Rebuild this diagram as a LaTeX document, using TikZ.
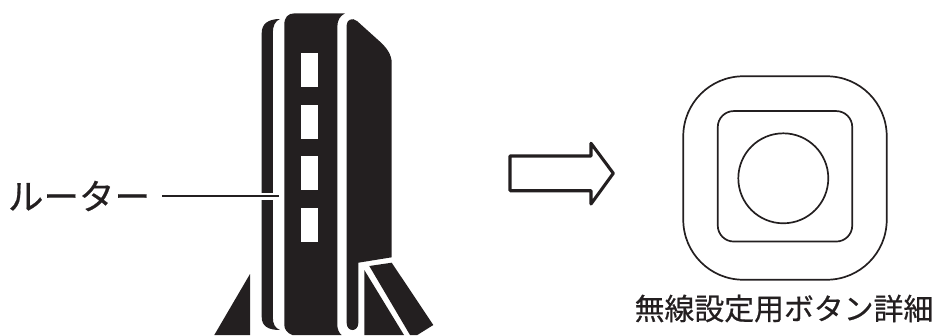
\documentclass[tikz,border=0pt]{standalone}
\usepackage{fontspec}
\usepackage{xcolor}
\usepackage{tikz}
\usetikzlibrary{positioning, calc}
\setmainfont{Noto Sans CJK JP}[FakeBold=0.5]
\definecolor{ink}{HTML}{231F20}
\tikzstyle{body} = [fill=ink, draw=none]
\tikzstyle{lamp} = [rectangle, fill=white, draw=none, minimum width=0.34cm,
    minimum height=0.68cm, inner sep=0pt]
\tikzstyle{outline} = [rectangle, draw=ink, line width=0.034cm, inner sep=0pt]
\tikzstyle{leader} = [draw=ink, line width=0.028cm]
\tikzstyle{caption} = [text=ink, inner sep=0pt]

\begin{document}
\begin{tikzpicture}[x=0.02cm, y=-0.02cm]
  \useasboundingbox (0,0) rectangle (936,335);

  % stand
  \fill[body] (250,274) -- (250,335) -- (214.3,335) -- cycle;
  \fill[body] (364.3,270) -- (404,335) -- (364.3,335) -- cycle;
  \fill[body] (369.3,266) -- (391.7,262.7) -- (433.3,325) -- (417.3,335) -- (410,335) -- cycle;

  % router
  \fill[body] (261.7,33) .. controls (261.7,24) and (268,19) .. (280,19)
    .. controls (275,21) and (272.8,26) .. (272.8,33) -- (272.8,317)
    .. controls (272.8,324) and (275,328) .. (280,330)
    .. controls (268,330) and (261.7,326) .. (261.7,317) -- cycle;
  \fill[body] (284.3,25) .. controls (284.3,17) and (288,13.3) .. (295,13.3) -- (345,13.3)
    .. controls (340,16) and (337.3,20) .. (337.3,27) -- (337.3,325)
    .. controls (337.3,329) and (339,333) .. (341.7,335) -- (292.3,335)
    .. controls (287,333) and (284.3,329) .. (284.3,325) -- cycle;
  \fill[body] (346.7,25) .. controls (346.7,20) and (352,17) .. (357,21) -- (380,41.7)
    .. controls (387,48) and (391.7,55) .. (391.7,63) -- (391.7,257.3) -- (358.3,262.7)
    -- (358.3,323) .. controls (358.3,328) and (355,330) .. (352.5,330)
    .. controls (349,330) and (346.7,327) .. (346.7,323) -- cycle;

  \node[lamp] (lampa) at (309.5,70) {};
  \node[lamp, below=0.34cm of lampa] (lampb) {};
  \node[lamp, below=0.34cm of lampb] (lampc) {};
  \node[lamp, below=0.34cm of lampc] (lampd) {};

  % label with its line
  \node[caption, font=\fontsize{20.2pt}{24pt}\selectfont] (router) at (79,196) {ルーター};
  \coordinate (routerend) at (279,196);
  \coordinate (linestart) at (162,196);
  \draw[leader, preaction={draw=white, line width=0.14cm}] (linestart) -- (routerend);

  % arrow
  \draw[draw=ink, line width=0.062cm, line join=round] (510,156) -- (591,156) -- (591,143.3)
    -- (613.3,173.3) -- (591,204) -- (591,190.7) -- (510,190.7) -- cycle;

  % button
  \node[outline, rounded corners=1.2cm, minimum width=4.07cm, minimum height=4.07cm] (frame) at (785,178) {};
  \node[outline, rounded corners=0.32cm, minimum width=2.69cm, minimum height=2.61cm] (plate) at (785,176.3) {};
  \node[outline, circle, minimum size=1.8cm] (button) at (783.3,178.3) {};
  \node[caption, font=\fontsize{17pt}{20pt}\selectfont] (buttonlabel) at (784,308.5) {無線設定用ボタン詳細};
\end{tikzpicture}
\end{document}
